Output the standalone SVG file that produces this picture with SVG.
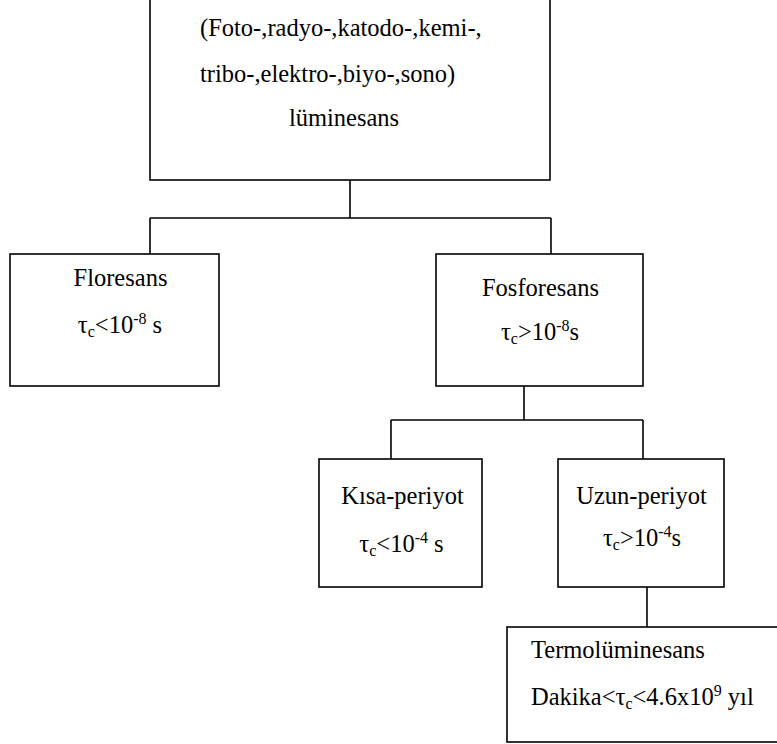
<svg xmlns="http://www.w3.org/2000/svg" width="777" height="744" viewBox="0 0 777 744" font-family="'Liberation Serif', 'Times New Roman', Times, 'DejaVu Serif', serif">
<style>
.box{fill:#fff;stroke:#000;stroke-width:1.6}
.conn line{stroke:#000;stroke-width:1.6}
text{font-family:'Liberation Serif','Times New Roman',Times,'DejaVu Serif',serif;font-size:24.5px;fill:#000}
.m{text-anchor:middle}
.s{font-size:16px}
</style>
<rect width="777" height="744" fill="#fff"/>
<g class="conn" id="connectors">
<line x1="350" y1="180" x2="350" y2="218"/>
<line x1="150" y1="218" x2="551" y2="218"/>
<line x1="150" y1="218" x2="150" y2="254"/>
<line x1="551" y1="218" x2="551" y2="254"/>
<line x1="524" y1="386" x2="524" y2="420"/>
<line x1="391" y1="420" x2="643" y2="420"/>
<line x1="391" y1="420" x2="391" y2="459"/>
<line x1="643" y1="420" x2="643" y2="459"/>
<line x1="647" y1="587" x2="647" y2="627"/>
</g>
<g id="luminesans">
<rect class="box" x="150" y="-5" width="400" height="185"/>
<text x="200" y="36">(Foto-,radyo-,katodo-,kemi-,</text>
<text x="200" y="82">tribo-,elektro-,biyo-,sono)</text>
<text class="m" x="344" y="126">lüminesans</text>
</g>
<g id="floresans">
<rect class="box" x="10" y="254" width="209" height="132"/>
<text class="m" x="120.5" y="286">Floresans</text>
<text class="m" x="120" y="333">τ<tspan class="s" dy="4">c</tspan><tspan dy="-4">&lt;10</tspan><tspan class="s" dy="-9">-8</tspan><tspan dy="9"> s</tspan></text>
</g>
<g id="fosforesans">
<rect class="box" x="436" y="254" width="207" height="132"/>
<text class="m" x="540.5" y="296">Fosforesans</text>
<text class="m" x="540" y="340">τ<tspan class="s" dy="4">c</tspan><tspan dy="-4">&gt;10</tspan><tspan class="s" dy="-9">-8</tspan><tspan dy="9">s</tspan></text>
</g>
<g id="kisa-periyot">
<rect class="box" x="319" y="459" width="163" height="128"/>
<text class="m" x="402.5" y="504">Kısa-periyot</text>
<text class="m" x="401.5" y="552">τ<tspan class="s" dy="4">c</tspan><tspan dy="-4">&lt;10</tspan><tspan class="s" dy="-9">-4</tspan><tspan dy="9"> s</tspan></text>
</g>
<g id="uzun-periyot">
<rect class="box" x="558" y="459" width="166" height="128"/>
<text class="m" x="641.5" y="504">Uzun-periyot</text>
<text class="m" x="642" y="546">τ<tspan class="s" dy="4">c</tspan><tspan dy="-4">&gt;10</tspan><tspan class="s" dy="-9">-4</tspan><tspan dy="9">s</tspan></text>
</g>
<g id="termoluminesans">
<rect class="box" x="507" y="627" width="280" height="115"/>
<text x="531" y="658">Termolüminesans</text>
<text x="531" y="705">Dakika&lt;τ<tspan class="s" dy="4">c</tspan><tspan dy="-4">&lt;4.6x10</tspan><tspan class="s" dy="-9">9</tspan><tspan dy="9"> yıl</tspan></text>
</g>
</svg>
